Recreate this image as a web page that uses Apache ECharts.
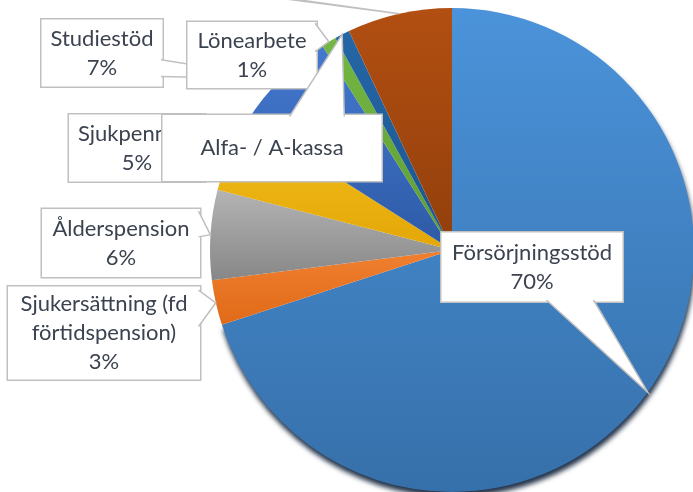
<!DOCTYPE html>
<html>
<head>
<meta charset="utf-8">
<script src="https://cdn.jsdelivr.net/npm/echarts@6/dist/echarts.min.js"></script>
<style>
html, body { margin: 0; padding: 0; background: #fff; }
#container { width: 693px; height: 492px; }
</style>
</head>
<body>
<div id="container"></div>
<script>
var categories = ['Försörjningsstöd', 'Sjukersättning (fd\nförtidspension)', 'Ålderspension', 'Sjukpenning', 'Studiestöd', 'Lönearbete', 'Alfa- / A-kassa', 'Övrigt'];
var values = [70, 3, 6, 5, 7, 1, 1, 7];
var topColors = ['#4b93da', '#f08030', '#b4b4b4', '#f3bf1a', '#4479cf', '#74b743', '#2566a6', '#b24f12'];
var bottomColors = ['#3670aa', '#e06a18', '#878787', '#e3a708', '#2d5aa6', '#5f9c33', '#1d5590', '#923f0b'];

// callout boxes: centre, size, edge the pointer leaves from, pointer base (fractions of that edge)
var boxes = [
    {cx: 532, cy: 267, w: 181, h: 69, lines: 2, edge: 'bottom', base: [0.58, 0.84]},
    {cx: 104, cy: 333, w: 192, h: 93, lines: 3, edge: 'right', base: [0.04, 0.43]},
    {cx: 121, cy: 243, w: 158, h: 68, lines: 2, edge: 'right', base: [0.03, 0.41]},
    {cx: 137, cy: 148, w: 136, h: 67, lines: 2, edge: 'right', base: [0.3, 0.6]},
    {cx: 102, cy: 53, w: 121, h: 67, lines: 2, edge: 'right', base: [0.6, 0.85]},
    {cx: 252, cy: 55, w: 129, h: 66, lines: 2, edge: 'right', base: [0.02, 0.45]},
    {cx: 272, cy: 148, w: 219, h: 66, lines: 1, edge: 'top', base: [0.58, 0.83]},
    {cx: 110, cy: -60, w: 130, h: 68, lines: 2, edge: 'bottom', base: [0.3, 0.45]}
];

var LINE_H = 29;

// pointer polygon: base corners pushed 1.5px into the box so the fill hides the border there
function calloutPoints(b, target) {
    var x0 = b.cx - b.w / 2, y0 = b.cy - b.h / 2;
    var p, q;
    if (b.edge === 'bottom') {
        p = [x0 + b.w * b.base[0], y0 + b.h - 1.5];
        q = [x0 + b.w * b.base[1], y0 + b.h - 1.5];
    } else if (b.edge === 'top') {
        p = [x0 + b.w * b.base[0], y0 + 1.5];
        q = [x0 + b.w * b.base[1], y0 + 1.5];
    } else {
        p = [x0 + b.w - 1.5, y0 + b.h * b.base[0]];
        q = [x0 + b.w - 1.5, y0 + b.h * b.base[1]];
    }
    return [p, target, q];
}

var data = categories.map(function (name, i) {
    var b = boxes[i];
    var padV = (b.h - b.lines * LINE_H) / 2;
    var item = {
        name: name,
        value: values[i],
        itemStyle: {
            color: new echarts.graphic.LinearGradient(0, 0, 0, 1, [
                {offset: 0, color: topColors[i]},
                {offset: 1, color: bottomColors[i]}
            ])
        },
        label: {
            width: b.w - 8,
            padding: [padV, 4, padV, 4]
        }
    };
    if (i === 0) {
        item.itemStyle.shadowColor = 'rgba(12, 30, 55, 0.9)';
        item.itemStyle.shadowBlur = 5;
        item.itemStyle.shadowOffsetY = 5;
        item.itemStyle.shadowOffsetX = 1;
    }
    if (i === 6) {
        item.label.formatter = '{b}';
    }
    return item;
});

var dom = document.getElementById('container');
var myChart = echarts.init(dom);

var option = {
    animation: false,
    series: [
        {
            name: 'Inkomstkälla',
            type: 'pie',
            center: [452, 250],
            radius: 242,
            startAngle: 90,
            clockwise: true,
            avoidLabelOverlap: false,
            emphasis: {disabled: true},
            label: {
                show: true,
                formatter: '{b}\n{d}%',
                fontFamily: 'Lato',
                fontSize: 22,
                lineHeight: LINE_H,
                color: '#3c4350',
                backgroundColor: '#ffffff',
                borderColor: '#c0c0c0',
                borderWidth: 1.5,
                align: 'center',
                overflow: 'none'
            },
            labelLine: {
                show: true,
                smooth: false,
                lineStyle: {color: '#c0c0c0', width: 1.5}
            },
            labelLayout: function (params) {
                var b = boxes[params.dataIndex];
                return {
                    x: b.cx,
                    y: b.cy,
                    align: 'center',
                    verticalAlign: 'middle',
                    labelLinePoints: calloutPoints(b, params.labelLinePoints[0])
                };
            },
            data: data
        }
    ]
};

myChart.setOption(option, true);

// Excel-style callouts: fill the pointers white and stack each box with its own pointer
var pieData = myChart.getModel().getSeriesByIndex(0).getData();
pieData.each(function (idx) {
    var sector = pieData.getItemGraphicEl(idx);
    var label = sector && sector.getTextContent();
    var guide = sector && sector.getTextGuideLine();
    if (label) {
        label.z2 = 100 + idx * 2;
        label.markRedraw();
    }
    if (guide) {
        guide.z2 = 101 + idx * 2;
        guide.style.fill = '#ffffff';
        guide.markRedraw();
    }
});
myChart.getZr().refresh();
</script>
</body>
</html>
